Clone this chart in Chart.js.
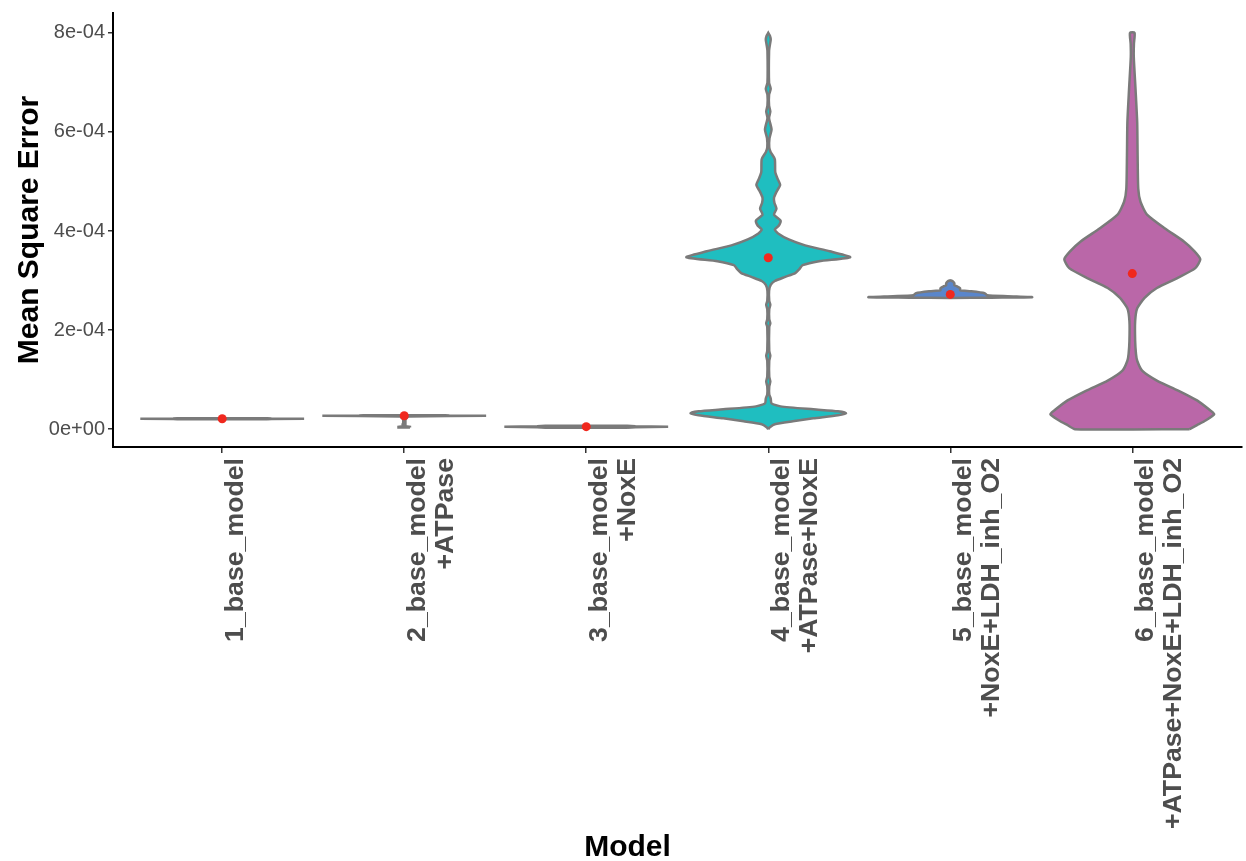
<!DOCTYPE html>
<html>
<head>
<meta charset="utf-8">
<script src="https://cdn.jsdelivr.net/npm/chart.js@4.4.1/dist/chart.umd.min.js"></script>
<style>
html,body{margin:0;padding:0;background:#ffffff;}
#wrap{width:1246px;height:861px;position:relative;}
</style>
</head>
<body>
<div id="wrap"><canvas id="c" width="1246" height="861"></canvas></div>
<script>
// ---------- data ----------
const categories = ['1_base_model', '2_base_model\n+ATPase', '3_base_model\n+NoxE',
  '4_base_model\n+ATPase+NoxE', '5_base_model\n+NoxE+LDH_inh_O2', '6_base_model\n+ATPase+NoxE+LDH_inh_O2'];
const xTickLabels = [
  ['1_base_model'],
  ['2_base_model', '+ATPase'],
  ['3_base_model', '+NoxE'],
  ['4_base_model', '+ATPase+NoxE'],
  ['5_base_model', '+NoxE+LDH_inh_O2'],
  ['6_base_model', '+ATPase+NoxE+LDH_inh_O2']
];
const yTickValues = [0, 2e-4, 4e-4, 6e-4, 8e-4];
const yTickLabels = ['0e+00', '2e-04', '4e-04', '6e-04', '8e-04'];
const meanValues = [2.1e-5, 2.7e-5, 0.5e-5, 3.46e-4, 2.72e-4, 3.14e-4];
const violinColors = ['#8C8C8C', '#8C8C8C', '#8C8C8C', '#1FBEC0', '#5A86CB', '#BA67A8'];

// violin profiles: values (MSE levels) and relative half-widths (0..1)
const v1Values = [2.02e-5, 2.06e-5, 2.10e-5, 2.14e-5, 2.18e-5];
const v1Widths = [0.55, 0.6, 1.0, 0.6, 0.55];

const v2Values = [0.35e-5, 0.45e-5, 0.6e-5, 1.0e-5, 1.3e-5, 2.0e-5, 2.58e-5, 2.64e-5, 2.70e-5, 2.76e-5, 2.82e-5];
const v2Widths = [0.07, 0.07, 0.012, 0.02, 0.012, 0.012, 0.05, 0.55, 1.0, 0.55, 0.5];

const v3Values = [0.3e-5, 0.4e-5, 0.5e-5, 0.6e-5, 0.7e-5];
const v3Widths = [0.5, 0.6, 1.0, 0.6, 0.5];

const v4Values = [0.00e-4, 0.04e-4, 0.10e-4, 0.16e-4, 0.22e-4, 0.28e-4, 0.32e-4, 0.36e-4, 0.40e-4, 0.46e-4,
  0.52e-4, 0.62e-4, 0.70e-4, 0.86e-4, 0.96e-4, 1.06e-4, 1.38e-4, 1.48e-4, 1.58e-4, 2.06e-4,
  2.14e-4, 2.22e-4, 2.42e-4, 2.51e-4, 2.59e-4, 2.79e-4, 2.91e-4, 2.99e-4, 3.07e-4, 3.15e-4,
  3.23e-4, 3.31e-4, 3.39e-4, 3.47e-4, 3.59e-4, 3.71e-4, 3.83e-4, 3.95e-4, 4.03e-4, 4.11e-4,
  4.21e-4, 4.33e-4, 4.45e-4, 4.57e-4, 4.67e-4, 4.79e-4, 4.93e-4, 5.07e-4, 5.19e-4, 5.45e-4,
  5.59e-4, 5.69e-4, 5.87e-4, 6.05e-4, 6.23e-4, 6.29e-4, 6.41e-4, 6.53e-4, 6.75e-4, 6.87e-4,
  6.99e-4, 7.64e-4, 7.76e-4, 7.86e-4, 7.94e-4, 8.00e-4];
const v4Widths = [0, 0.02, 0.08, 0.3, 0.55, 0.85, 0.95, 0.85, 0.55, 0.15,
  0.04, 0.03, 0.012, 0.012, 0.025, 0.012, 0.012, 0.025, 0.012, 0.012,
  0.025, 0.012, 0.012, 0.025, 0.012, 0.01, 0.03, 0.08, 0.20, 0.33,
  0.38, 0.42, 0.62, 1.0, 0.75, 0.45, 0.25, 0.12, 0.08, 0.13,
  0.15, 0.07, 0.10, 0.075, 0.07, 0.10, 0.145, 0.11, 0.085, 0.08,
  0.03, 0.012, 0.015, 0.04, 0.015, 0.01, 0.025, 0.01, 0.01, 0.03,
  0.01, 0.01, 0.02, 0.03, 0.02, 0];

const v5Values = [2.645e-4, 2.655e-4, 2.665e-4, 2.685e-4, 2.705e-4, 2.745e-4, 2.785e-4, 2.805e-4, 2.845e-4, 2.885e-4, 2.905e-4, 2.945e-4, 2.985e-4, 3.005e-4];
const v5Widths = [0, 0.5, 1.0, 0.7, 0.45, 0.42, 0.25, 0.12, 0.12, 0.08, 0.05, 0.05, 0.03, 0];

const v6Values = [0.00e-4, 0.08e-4, 0.18e-4, 0.30e-4, 0.38e-4, 0.58e-4, 0.78e-4, 0.98e-4, 1.18e-4, 1.38e-4,
  1.52e-4, 1.78e-4, 2.18e-4, 2.44e-4, 2.65e-4, 2.85e-4, 3.05e-4, 3.25e-4, 3.43e-4, 3.59e-4,
  3.79e-4, 4.05e-4, 4.33e-4, 4.59e-4, 4.85e-4, 5.53e-4, 6.19e-4, 6.85e-4, 7.52e-4, 7.78e-4, 8.00e-4];
const v6Widths = [0.70, 0.79, 0.90, 1.0, 0.95, 0.79, 0.56, 0.30, 0.12, 0.06,
  0.045, 0.035, 0.035, 0.06, 0.15, 0.30, 0.55, 0.77, 0.83, 0.76,
  0.63, 0.40, 0.18, 0.10, 0.073, 0.065, 0.06, 0.04, 0.018, 0.02, 0.028];

const violinValues = [v1Values, v2Values, v3Values, v4Values, v5Values, v6Values];
const violinWidths = [v1Widths, v2Widths, v3Widths, v4Widths, v5Widths, v6Widths];

// ---------- build ----------
const HALF = 0.45; // max half width in category units (ggplot width 0.9)
function violinPoints(i, vals, wids) {
  const right = vals.map((v, k) => ({x: i + HALF * wids[k], y: v}));
  const left = vals.map((v, k) => ({x: i - HALF * wids[k], y: v})).reverse();
  const pts = right.concat(left);
  pts.push({x: pts[0].x, y: pts[0].y});
  return pts;
}

const datasets = [];
datasets.push({
  label: 'mean',
  data: meanValues.map((v, i) => ({x: i, y: v})),
  showLine: false,
  pointRadius: 4.5,
  pointHoverRadius: 4.5,
  pointBackgroundColor: '#F0281E',
  pointBorderWidth: 0,
  order: 0
});
violinValues.forEach((vals, i) => {
  datasets.push({
    label: categories[i],
    data: violinPoints(i, vals, violinWidths[i]),
    showLine: true,
    fill: 'shape',
    backgroundColor: violinColors[i],
    borderColor: '#7A7A7A',
    borderWidth: 2.5,
    pointRadius: 0,
    pointHoverRadius: 0,
    tension: i >= 3 ? 0.2 : 0,
    order: 1
  });
});

Chart.defaults.font.family = '"Liberation Sans", Arial, Helvetica, sans-serif';

new Chart(document.getElementById('c'), {
  type: 'scatter',
  data: {datasets},
  options: {
    responsive: false,
    animation: false,
    devicePixelRatio: 1,
    layout: {padding: {left: 12, right: 3, top: 10, bottom: 0}},
    plugins: {
      legend: {display: false},
      tooltip: {enabled: false},
      title: {
        display: true,
        position: 'bottom',
        text: 'Model',
        color: '#000000',
        font: {size: 30, weight: 'bold', lineHeight: 0.9},
        padding: {top: 0, bottom: 0}
      }
    },
    scales: {
      x: {
        type: 'linear',
        min: -0.6,
        max: 5.6,
        afterBuildTicks: s => { s.ticks = categories.map((_, i) => ({value: i})); },
        afterFit: s => { s.height = 387; },
        ticks: {
          autoSkip: false,
          maxRotation: 90,
          minRotation: 90,
          padding: 5,
          labelOffset: 13,
          color: '#4D4D4D',
          font: {size: 26.7, weight: 'bold', lineHeight: 1.05},
          callback: v => xTickLabels[Math.round(v)]
        },
        grid: {drawOnChartArea: false, drawTicks: true, tickLength: 6, color: '#333333', lineWidth: 1.5},
        border: {display: true, color: '#000000', width: 2}
      },
      y: {
        type: 'linear',
        min: -3.6e-5,
        max: 8.4e-4,
        afterBuildTicks: s => { s.ticks = yTickValues.map(v => ({value: v})); },
        afterFit: s => { s.width = 101; },
        ticks: {
          padding: 3,
          color: '#4D4D4D',
          font: {size: 20, lineHeight: 1.0},
          callback: (v, i) => yTickLabels[i]
        },
        grid: {drawOnChartArea: false, drawTicks: true, tickLength: 5, color: '#333333', lineWidth: 1.5},
        border: {display: true, color: '#000000', width: 2},
        title: {display: true, text: 'Mean Square Error', color: '#000000', font: {size: 30, weight: 'bold', lineHeight: 1.2}, padding: {top: 0, bottom: 0}}
      }
    }
  }
});
</script>
</body>
</html>
